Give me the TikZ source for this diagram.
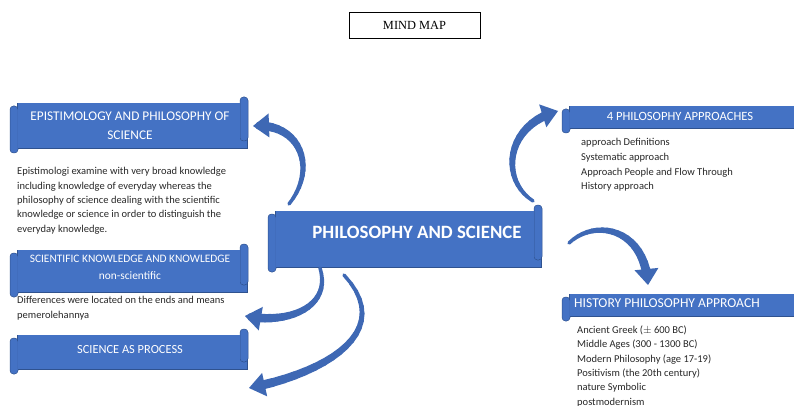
\documentclass[tikz,border=0pt]{standalone}
\usepackage{fontspec}
\setmainfont{Carlito}
\newfontfamily\timesfont{Liberation Serif}
\usetikzlibrary{calc}
\definecolor{bannerblue}{RGB}{68,114,196}
\definecolor{banneredge}{RGB}{47,82,143}
\definecolor{arrowblue}{RGB}{62,104,180}
\definecolor{bodytext}{RGB}{40,40,40}
\newcommand\scrollshape[4]{%
  \fill[bannerblue,draw=banneredge,line width=0.5pt] ({#1+7},{#2+6}) rectangle ({#3-1},{#4-5});
  \fill[bannerblue,draw=banneredge,line width=0.5pt,rounded corners=3.5pt] ({#1},{#2+9}) rectangle ({#1+8},{#4});
  \fill[bannerblue,draw=banneredge,line width=0.5pt,rounded corners=3.5pt] ({#3-8},{#2}) rectangle ({#3},{#4-12});
  \fill[bannerblue] ({#1+8.3},{#2+6.3}) rectangle ({#3-8.3},{#4-5.3});
}
% tapered curved block arrow: start, control 1, control 2, end
\newcommand\taperarrow[4]{%
  \path (#1) .. controls (#2) and (#3) .. (#4)
    foreach \k in {0,...,20} {coordinate[pos=\k/20] (tp\k)};
  \coordinate (hb) at ($(#4)!16pt!(tp19)$);
  \coordinate (hl) at ($(hb)!12pt!90:(#4)$);
  \coordinate (hr) at ($(hb)!12pt!-90:(#4)$);
  \foreach \k [evaluate=\k as \w using 3.2+0.3*\k, remember=\k as \prev (initially 0)] in {1,...,19}
    {\draw[arrowblue,line width=\w pt,line cap=round] (tp\prev) -- (tp\k);}
  \fill[arrowblue] (hl) -- (#4) -- (hr) -- cycle;
}
\tikzset{
  bannertext/.style={text=white,align=center,inner sep=0pt},
  bodybox/.style={anchor=north west,align=left,inner sep=0pt,text=bodytext,
    font=\fontsize{10.5}{14.3}\selectfont},
}
\begin{document}
\begin{tikzpicture}[x=1pt,y=-1pt]
\clip (0,0) rectangle (794,406);
\fill[white] (0,0) rectangle (794,406);
% title box
\node[draw=black,line width=0.6pt,minimum width=131pt,minimum height=26pt,inner sep=0pt,
  font=\timesfont\fontsize{12.4}{14}\selectfont] (mindmap) at (414.5,25) {MIND MAP};
% banners
\scrollshape{10}{97}{248}{153}
\scrollshape{10}{244}{248}{297}
\scrollshape{10}{329}{248}{374}
\scrollshape{268}{205}{542}{272}
\scrollshape{562}{100}{810}{133}
\scrollshape{562}{288}{810}{321}
% banner texts
\node[bannertext,font=\fontsize{13.3}{19}\selectfont] (epi) at (130,125.5)
  {EPISTIMOLOGY AND PHILOSOPHY OF\\SCIENCE};
\node[bannertext,font=\fontsize{11.4}{17}\selectfont] (sci) at (130,267.5)
  {SCIENTIFIC KNOWLEDGE AND KNOWLEDGE\\non-scientific};
\node[bannertext,font=\fontsize{12.4}{14}\selectfont] (proc) at (130,350) {SCIENCE AS PROCESS};
\node[bannertext,font=\bfseries\fontsize{18.8}{22}\selectfont] (main) at (417,232) {PHILOSOPHY AND SCIENCE};
\node[bannertext,font=\fontsize{12.6}{14}\selectfont] (four) at (680,116) {4 PHILOSOPHY APPROACHES};
\node[bannertext,anchor=west,font=\fontsize{13.6}{15}\selectfont] (hist) at (574,303) {HISTORY PHILOSOPHY APPROACH};
% body texts
\node[bodybox] (epibody) at (17,167.5) {Epistimologi examine with very broad knowledge\\
including knowledge of everyday whereas the\\
philosophy of science dealing with the scientific\\
knowledge or science in order to distinguish the\\
everyday knowledge.};
\node[bodybox,font=\fontsize{10.5}{15}\selectfont] (scibody) at (17,296.5) {Differences were located on the ends and means\\pemerolehannya};
\node[bodybox,font=\fontsize{10.5}{14.6}\selectfont] (fourbody) at (581,138.5) {approach Definitions\\Systematic approach\\Approach People and Flow Through\\History approach};
\node[bodybox,font=\fontsize{10.5}{14.4}\selectfont] (histbody) at (577,325.5) {Ancient Greek ($\pm$ 600 BC)\\Middle Ages (300 - 1300 BC)\\Modern Philosophy (age 17-19)\\Positivism (the 20th century)\\nature Symbolic\\postmodernism};
% arrow end points
\coordinate (a1s) at (289,204);
\coordinate (a1e) at (253,126);
\coordinate (a2s) at (533,201);
\coordinate (a2e) at (558,111);
\coordinate (a3s) at (569,243);
\coordinate (a3e) at (648,285);
\coordinate (a4s) at (320,268);
\coordinate (a4e) at (245,316);
\coordinate (a5s) at (344,275);
\coordinate (a5e) at (249,388);
% curved arrows
\taperarrow{a1s}{318,168}{300,122}{a1e}
\taperarrow{a2s}{500,180}{505,125}{a2e}
\taperarrow{a3s}{595,218}{645,228}{a3e}
\taperarrow{a4s}{332,306}{290,325}{a4e}
\taperarrow{a5s}{395,330}{330,372}{a5e}
\end{tikzpicture}
\end{document}
